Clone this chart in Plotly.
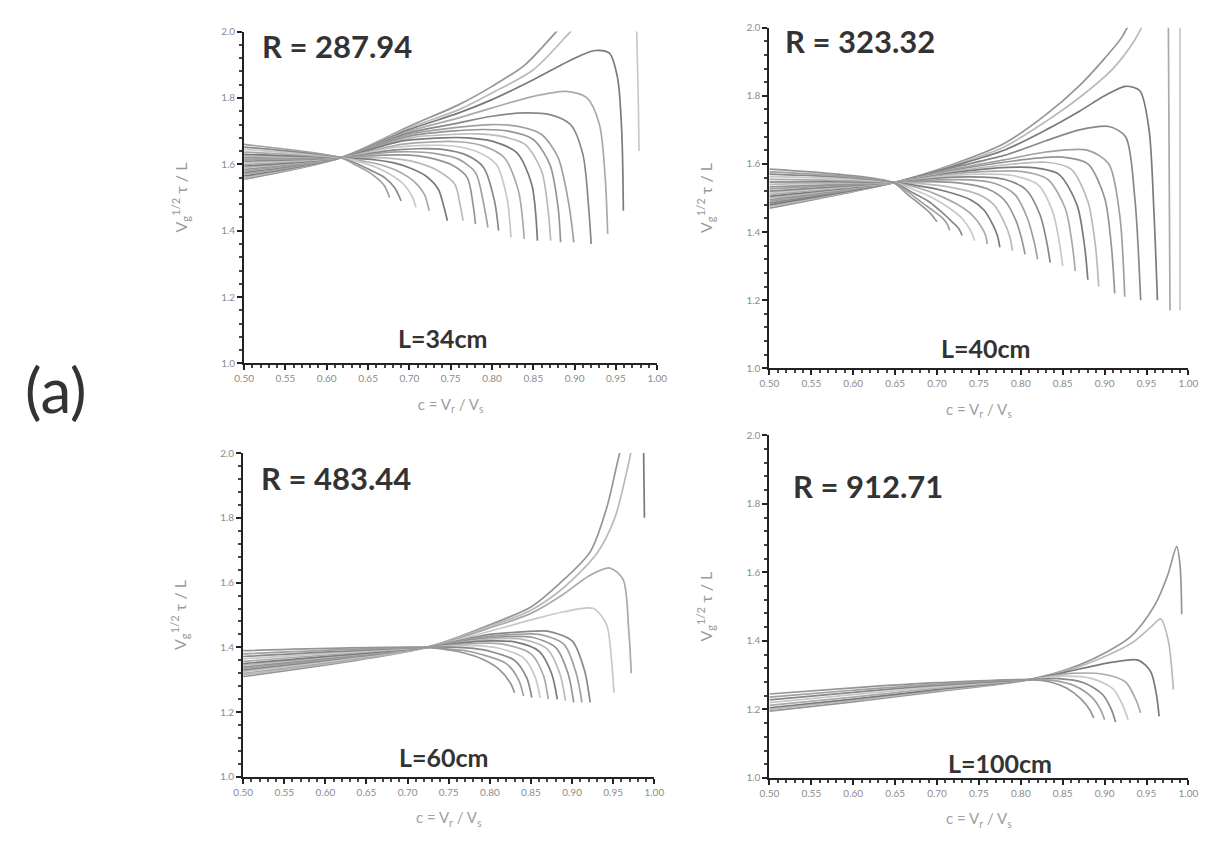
import plotly.graph_objects as go

# ---- curve families: each entry is (c values, normalized time values) ----
CURVES_L34 = [
    ([0.50, 0.617, 0.70, 0.76, 0.80, 0.84, 0.878, 0.90], [1.555, 1.62, 1.715, 1.78, 1.835, 1.90, 2.00, 2.06]),
    ([0.50, 0.617, 0.70, 0.76, 0.80, 0.85, 0.895, 0.91], [1.56, 1.62, 1.71, 1.765, 1.815, 1.885, 2.00, 2.04]),
    ([0.50, 0.617, 0.70, 0.76, 0.80, 0.85, 0.90, 0.925, 0.942, 0.952, 0.957, 0.959],
     [1.565, 1.62, 1.705, 1.755, 1.795, 1.855, 1.92, 1.943, 1.935, 1.86, 1.70, 1.46]),
    ([0.50, 0.617, 0.70, 0.76, 0.80, 0.85, 0.89, 0.915, 0.93, 0.937, 0.94],
     [1.57, 1.62, 1.70, 1.74, 1.77, 1.805, 1.82, 1.80, 1.72, 1.56, 1.39]),
    ([0.975, 0.977, 0.978], [2.02, 1.80, 1.64]),
    ([0.50, 0.617, 0.70, 0.76, 0.80, 0.84, 0.87, 0.895, 0.91, 0.917, 0.92],
     [1.575, 1.62, 1.695, 1.725, 1.745, 1.755, 1.75, 1.72, 1.63, 1.47, 1.36]),
    ([0.50, 0.617, 0.70, 0.76, 0.80, 0.83, 0.86, 0.88, 0.893, 0.899],
     [1.58, 1.62, 1.69, 1.712, 1.72, 1.715, 1.69, 1.62, 1.48, 1.365]),
    ([0.50, 0.617, 0.70, 0.75, 0.79, 0.82, 0.85, 0.87, 0.88, 0.883],
     [1.585, 1.62, 1.685, 1.70, 1.705, 1.70, 1.675, 1.60, 1.47, 1.365]),
    ([0.50, 0.617, 0.70, 0.75, 0.78, 0.81, 0.84, 0.86, 0.868, 0.871],
     [1.59, 1.62, 1.68, 1.69, 1.692, 1.685, 1.66, 1.58, 1.46, 1.37]),
    ([0.50, 0.617, 0.69, 0.74, 0.77, 0.80, 0.83, 0.848, 0.855],
     [1.595, 1.62, 1.67, 1.68, 1.68, 1.67, 1.635, 1.54, 1.37]),
    ([0.50, 0.617, 0.69, 0.73, 0.76, 0.79, 0.815, 0.832, 0.839],
     [1.60, 1.62, 1.66, 1.668, 1.668, 1.655, 1.62, 1.52, 1.375]),
    ([0.50, 0.617, 0.68, 0.72, 0.75, 0.78, 0.805, 0.818, 0.823],
     [1.605, 1.62, 1.65, 1.657, 1.656, 1.64, 1.60, 1.50, 1.38]),
    ([0.50, 0.617, 0.68, 0.71, 0.74, 0.77, 0.79, 0.803, 0.808],
     [1.61, 1.62, 1.643, 1.647, 1.645, 1.627, 1.59, 1.49, 1.40]),
    ([0.50, 0.617, 0.67, 0.70, 0.73, 0.76, 0.78, 0.79, 0.795],
     [1.615, 1.62, 1.635, 1.638, 1.633, 1.615, 1.575, 1.48, 1.41]),
    ([0.50, 0.617, 0.67, 0.70, 0.72, 0.75, 0.77, 0.777, 0.78],
     [1.62, 1.62, 1.628, 1.628, 1.622, 1.60, 1.56, 1.48, 1.42]),
    ([0.50, 0.617, 0.66, 0.69, 0.71, 0.735, 0.755, 0.762, 0.765],
     [1.625, 1.62, 1.62, 1.615, 1.605, 1.58, 1.54, 1.47, 1.43]),
    ([0.50, 0.617, 0.66, 0.68, 0.70, 0.72, 0.735, 0.742, 0.746],
     [1.63, 1.62, 1.613, 1.605, 1.59, 1.565, 1.525, 1.47, 1.43]),
    ([0.50, 0.617, 0.65, 0.67, 0.69, 0.705, 0.718, 0.724],
     [1.637, 1.62, 1.607, 1.595, 1.575, 1.55, 1.51, 1.46]),
    ([0.50, 0.617, 0.65, 0.665, 0.68, 0.693, 0.703, 0.708],
     [1.645, 1.62, 1.60, 1.585, 1.565, 1.54, 1.505, 1.47]),
    ([0.50, 0.617, 0.64, 0.655, 0.67, 0.682, 0.69],
     [1.652, 1.62, 1.598, 1.58, 1.56, 1.53, 1.49]),
    ([0.50, 0.617, 0.635, 0.65, 0.66, 0.67, 0.676],
     [1.66, 1.62, 1.598, 1.578, 1.56, 1.535, 1.50]),
]

CURVES_L40 = [
    ([0.50, 0.648, 0.72, 0.78, 0.83, 0.87, 0.90, 0.92, 0.935], [1.47, 1.545, 1.60, 1.66, 1.745, 1.83, 1.91, 1.97, 2.04]),
    ([0.50, 0.648, 0.72, 0.78, 0.83, 0.87, 0.91, 0.935, 0.95], [1.475, 1.545, 1.597, 1.65, 1.725, 1.795, 1.88, 1.96, 2.03]),
    ([0.50, 0.648, 0.72, 0.78, 0.83, 0.87, 0.90, 0.925, 0.942, 0.953, 0.959, 0.963],
     [1.48, 1.545, 1.594, 1.64, 1.70, 1.755, 1.80, 1.828, 1.815, 1.70, 1.45, 1.20]),
    ([0.976, 0.977, 0.978], [2.03, 1.60, 1.17]),
    ([0.990, 0.990], [2.03, 1.17]),
    ([0.50, 0.648, 0.72, 0.78, 0.83, 0.87, 0.905, 0.925, 0.936, 0.943],
     [1.485, 1.545, 1.59, 1.625, 1.668, 1.70, 1.71, 1.68, 1.50, 1.20]),
    ([0.50, 0.648, 0.72, 0.78, 0.83, 0.88, 0.905, 0.918, 0.924],
     [1.49, 1.545, 1.585, 1.612, 1.635, 1.64, 1.60, 1.45, 1.21]),
    ([0.50, 0.648, 0.72, 0.78, 0.82, 0.85, 0.88, 0.90, 0.908, 0.912],
     [1.495, 1.545, 1.582, 1.605, 1.617, 1.62, 1.60, 1.50, 1.36, 1.22]),
    ([0.50, 0.648, 0.72, 0.78, 0.83, 0.86, 0.88, 0.889, 0.893],
     [1.50, 1.545, 1.578, 1.597, 1.605, 1.585, 1.49, 1.36, 1.24]),
    ([0.50, 0.648, 0.72, 0.77, 0.81, 0.845, 0.867, 0.876, 0.88],
     [1.505, 1.545, 1.575, 1.588, 1.59, 1.57, 1.48, 1.36, 1.26]),
    ([0.50, 0.648, 0.71, 0.76, 0.80, 0.832, 0.853, 0.861, 0.865],
     [1.51, 1.545, 1.568, 1.578, 1.578, 1.555, 1.47, 1.37, 1.285]),
    ([0.50, 0.648, 0.71, 0.75, 0.79, 0.82, 0.838, 0.846, 0.85],
     [1.515, 1.545, 1.564, 1.570, 1.566, 1.54, 1.46, 1.37, 1.30]),
    ([0.50, 0.648, 0.70, 0.74, 0.78, 0.806, 0.823, 0.831, 0.835],
     [1.52, 1.545, 1.558, 1.562, 1.555, 1.525, 1.45, 1.37, 1.31]),
    ([0.50, 0.648, 0.70, 0.74, 0.77, 0.793, 0.808, 0.816, 0.82],
     [1.527, 1.545, 1.553, 1.553, 1.542, 1.51, 1.44, 1.37, 1.32]),
    ([0.50, 0.648, 0.69, 0.73, 0.76, 0.78, 0.794, 0.801, 0.805],
     [1.533, 1.545, 1.548, 1.543, 1.527, 1.495, 1.435, 1.38, 1.335]),
    ([0.50, 0.648, 0.69, 0.72, 0.75, 0.768, 0.78, 0.787, 0.79],
     [1.54, 1.545, 1.54, 1.53, 1.51, 1.48, 1.43, 1.385, 1.345]),
    ([0.50, 0.648, 0.68, 0.71, 0.74, 0.756, 0.767, 0.772, 0.775],
     [1.547, 1.545, 1.535, 1.52, 1.495, 1.465, 1.42, 1.39, 1.355]),
    ([0.50, 0.648, 0.68, 0.70, 0.725, 0.742, 0.753, 0.758, 0.76],
     [1.555, 1.545, 1.528, 1.51, 1.48, 1.45, 1.415, 1.39, 1.365]),
    ([0.50, 0.648, 0.675, 0.695, 0.715, 0.73, 0.74, 0.745],
     [1.563, 1.545, 1.522, 1.50, 1.47, 1.44, 1.405, 1.375]),
    ([0.50, 0.648, 0.67, 0.69, 0.705, 0.718, 0.726, 0.73],
     [1.57, 1.545, 1.517, 1.49, 1.46, 1.43, 1.41, 1.39]),
    ([0.50, 0.648, 0.668, 0.683, 0.697, 0.707, 0.713, 0.715],
     [1.577, 1.545, 1.513, 1.485, 1.46, 1.44, 1.42, 1.405]),
    ([0.50, 0.648, 0.665, 0.678, 0.69, 0.697, 0.70],
     [1.585, 1.545, 1.51, 1.485, 1.46, 1.44, 1.43]),
]

CURVES_L60 = [
    ([0.50, 0.723, 0.80, 0.85, 0.886, 0.922, 0.942, 0.958, 0.966], [1.31, 1.40, 1.47, 1.525, 1.60, 1.695, 1.83, 2.00, 2.06]),
    ([0.50, 0.723, 0.80, 0.85, 0.89, 0.93, 0.952, 0.968, 0.976], [1.315, 1.40, 1.465, 1.515, 1.585, 1.69, 1.80, 1.96, 2.06]),
    ([0.987, 0.988], [2.01, 1.80]),
    ([0.50, 0.723, 0.80, 0.85, 0.89, 0.92, 0.946, 0.962, 0.969, 0.972],
     [1.32, 1.40, 1.46, 1.505, 1.565, 1.62, 1.645, 1.61, 1.45, 1.32]),
    ([0.50, 0.723, 0.80, 0.85, 0.89, 0.926, 0.942, 0.948, 0.951],
     [1.325, 1.40, 1.45, 1.485, 1.51, 1.52, 1.47, 1.36, 1.26]),
    ([0.50, 0.723, 0.80, 0.84, 0.87, 0.90, 0.915, 0.922], [1.33, 1.40, 1.44, 1.448, 1.45, 1.42, 1.33, 1.23]),
    ([0.50, 0.723, 0.79, 0.83, 0.86, 0.89, 0.905, 0.912], [1.335, 1.40, 1.432, 1.44, 1.44, 1.41, 1.32, 1.23]),
    ([0.50, 0.723, 0.78, 0.82, 0.85, 0.88, 0.895, 0.902], [1.34, 1.40, 1.425, 1.433, 1.432, 1.40, 1.32, 1.23]),
    ([0.50, 0.723, 0.78, 0.81, 0.84, 0.87, 0.885, 0.892], [1.345, 1.40, 1.42, 1.427, 1.425, 1.395, 1.32, 1.235]),
    ([0.50, 0.723, 0.77, 0.80, 0.83, 0.86, 0.875, 0.882], [1.35, 1.40, 1.415, 1.42, 1.417, 1.388, 1.32, 1.24]),
    ([0.50, 0.723, 0.77, 0.80, 0.82, 0.85, 0.865, 0.871], [1.357, 1.40, 1.41, 1.413, 1.408, 1.38, 1.315, 1.24]),
    ([0.50, 0.723, 0.76, 0.79, 0.81, 0.84, 0.855, 0.861], [1.365, 1.40, 1.405, 1.405, 1.398, 1.37, 1.31, 1.245]),
    ([0.50, 0.723, 0.76, 0.78, 0.80, 0.83, 0.845, 0.851], [1.372, 1.40, 1.40, 1.397, 1.388, 1.36, 1.305, 1.245]),
    ([0.50, 0.723, 0.75, 0.77, 0.79, 0.82, 0.835, 0.841], [1.38, 1.40, 1.395, 1.39, 1.378, 1.35, 1.30, 1.25]),
    ([0.50, 0.723, 0.75, 0.77, 0.79, 0.81, 0.825, 0.83], [1.39, 1.40, 1.392, 1.382, 1.365, 1.335, 1.29, 1.26]),
]

CURVES_L100 = [
    ([0.50, 0.60, 0.70, 0.81, 0.87, 0.93, 0.96, 0.975, 0.986, 0.990, 0.992],
     [1.195, 1.222, 1.252, 1.287, 1.33, 1.41, 1.505, 1.59, 1.675, 1.62, 1.478]),
    ([0.50, 0.60, 0.70, 0.81, 0.87, 0.93, 0.955, 0.967, 0.976, 0.982],
     [1.20, 1.226, 1.255, 1.287, 1.325, 1.39, 1.44, 1.464, 1.40, 1.258]),
    ([0.50, 0.60, 0.70, 0.81, 0.87, 0.91, 0.94, 0.955, 0.962, 0.965],
     [1.205, 1.23, 1.258, 1.287, 1.318, 1.338, 1.344, 1.31, 1.24, 1.18]),
    ([0.50, 0.60, 0.70, 0.81, 0.86, 0.90, 0.925, 0.937, 0.943],
     [1.212, 1.236, 1.262, 1.287, 1.305, 1.302, 1.28, 1.23, 1.19]),
    ([0.50, 0.60, 0.70, 0.81, 0.85, 0.885, 0.91, 0.922, 0.928],
     [1.22, 1.243, 1.266, 1.287, 1.297, 1.29, 1.26, 1.21, 1.17]),
    ([0.50, 0.60, 0.70, 0.81, 0.845, 0.875, 0.897, 0.908, 0.913],
     [1.228, 1.25, 1.27, 1.287, 1.29, 1.278, 1.245, 1.20, 1.163]),
    ([0.50, 0.60, 0.70, 0.81, 0.84, 0.865, 0.885, 0.895, 0.90],
     [1.236, 1.256, 1.274, 1.287, 1.284, 1.268, 1.235, 1.20, 1.17]),
    ([0.50, 0.60, 0.70, 0.81, 0.835, 0.855, 0.872, 0.882, 0.887],
     [1.245, 1.263, 1.278, 1.287, 1.28, 1.262, 1.23, 1.20, 1.175]),
]

R_LABELS = ["R = 287.94", "R = 323.32", "R = 483.44", "R = 912.71"]
L_LABELS = ["L=34cm", "L=40cm", "L=60cm", "L=100cm"]
X_TICKS = [0.50, 0.55, 0.60, 0.65, 0.70, 0.75, 0.80, 0.85, 0.90, 0.95, 1.00]
Y_TICKS = [1.0, 1.2, 1.4, 1.6, 1.8, 2.0]

W, H = 1225, 846
# panel boxes in pixels: (left, right, top, bottom)
BOXES = [(238, 658, 25, 362), (772, 1198, 21, 367), (237, 655, 453, 782), (772, 1198, 435, 783)]
R_POS = [(254, 40), (786, 35), (253, 478), (794, 486)]
L_POS = [(440, 336), (992, 346), (441, 762), (1006, 768)]

GRAYS = ["#959595", "#bababa", "#7a7a7a", "#aaaaaa", "#c8c8c8", "#888888", "#a0a0a0"]

fig = go.Figure()
families = [CURVES_L34, CURVES_L40, CURVES_L60, CURVES_L100]

for p, fam in enumerate(families):
    sfx = "" if p == 0 else str(p + 1)
    for k, (xs, ys) in enumerate(fam):
        fig.add_trace(go.Scatter(
            x=xs, y=ys, mode="lines",
            line=dict(color=GRAYS[k % len(GRAYS)], width=1.7, shape="spline", smoothing=0.8),
            xaxis="x" + sfx, yaxis="y" + sfx, showlegend=False, hoverinfo="skip",
        ))

layout = dict(
    width=W, height=H, margin=dict(l=0, r=0, t=0, b=0),
    paper_bgcolor="white", plot_bgcolor="white", showlegend=False,
    font=dict(family="Lato, 'Open Sans', sans-serif"),
)

annotations = []
for p, (l, r, t, b) in enumerate(BOXES):
    sfx = "" if p == 0 else str(p + 1)
    xdom = [l / W, r / W]
    ydom = [(H - b) / H, (H - t) / H]
    layout["xaxis" + sfx] = dict(
        domain=xdom, anchor="y" + sfx, range=[0.5, 1.0],
        tickvals=X_TICKS, tickformat=".2f",
        showline=True, linecolor="#222", linewidth=2, mirror=False,
        ticks="outside", ticklen=5, tickwidth=1.5, tickcolor="#222",
        minor=dict(dtick=0.01, ticks="outside", ticklen=3, tickcolor="#444", showgrid=False),
        showgrid=False, zeroline=False,
        tickfont=dict(size=10, color="#8c8c8c"),
        title=dict(text="c = V<sub>r</sub> / V<sub>s</sub>", font=dict(size=15, color="#a0a0a0"), standoff=16),
    )
    layout["yaxis" + sfx] = dict(
        domain=ydom, anchor="x" + sfx, range=[1.0, 2.0],
        tickvals=Y_TICKS, tickformat=".1f",
        showline=True, linecolor="#222", linewidth=2, mirror=False,
        ticks="outside", ticklen=5, tickwidth=1.5, tickcolor="#222",
        minor=dict(dtick=0.04, ticks="outside", ticklen=3, tickcolor="#444", showgrid=False),
        showgrid=False, zeroline=False,
        tickfont=dict(size=10, color="#8c8c8c"),
        title=dict(text="V<sub>g</sub><sup>1/2</sup> τ / L", font=dict(size=16, color="#9a9a9a"), standoff=30),
    )
    rx, ry = R_POS[p]
    annotations.append(dict(
        text="<b>" + R_LABELS[p] + "</b>", x=rx / W, y=1 - ry / H, xref="paper", yref="paper",
        xanchor="left", yanchor="middle", showarrow=False,
        font=dict(size=31, color="#333333", family="Lato, 'Open Sans', sans-serif"),
    ))
    lx, ly = L_POS[p]
    annotations.append(dict(
        text="<b>" + L_LABELS[p] + "</b>", x=lx / W, y=1 - ly / H, xref="paper", yref="paper",
        xanchor="center", yanchor="middle", showarrow=False,
        font=dict(size=25, color="#333333", family="Lato, 'Open Sans', sans-serif"),
    ))

annotations.append(dict(
    text="(a)", x=47 / W, y=1 - 388 / H, xref="paper", yref="paper",
    xanchor="center", yanchor="middle", showarrow=False,
    font=dict(size=62, color="#333333", family="Lato, 'Open Sans', sans-serif"),
))
layout["annotations"] = annotations

fig.update_layout(**layout)
fig.write_html("out.html")
